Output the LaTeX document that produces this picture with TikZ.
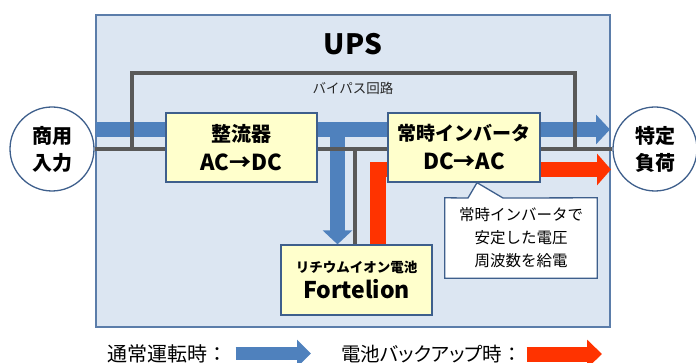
\documentclass[tikz,border=0pt]{standalone}
\usepackage{fontspec}
\setmainfont{Noto Sans CJK JP}
\newfontfamily\propfont[RawFeature=+palt]{Noto Sans CJK JP}
\usetikzlibrary{arrows.meta}
\pgfdeclarelayer{bg}
\pgfsetlayers{bg,main}
\definecolor{upsfill}{HTML}{DCE6F2}
\definecolor{upsline}{HTML}{5B7DAA}
\definecolor{boxline}{HTML}{3E5F8C}
\definecolor{boxfill}{HTML}{FFFFCC}
\definecolor{flowblue}{HTML}{4F81BD}
\definecolor{flowred}{HTML}{FF3300}
\definecolor{wire}{HTML}{595959}
\newcommand\fsz[2]{\fontsize{#1}{#2}\selectfont}
\begin{document}
\begin{tikzpicture}[x=1pt,y=-1pt,
  unit/.style={draw=boxline,fill=boxfill,line width=1.3pt,inner sep=0pt,align=center},
  endpoint/.style={circle,draw=boxline,fill=white,line width=1.3pt,minimum size=84pt,inner sep=0pt,align=center,font=\bfseries\fsz{20}{27}},
  wireline/.style={draw=wire,line width=3.5pt},
  blueflow/.style={draw=flowblue,line width=15pt,-{Triangle[length=14pt,width=29pt]}},
  redflow/.style={draw=flowred,line width=15.5pt,line join=miter,-{Triangle[length=14pt,width=31pt]}},
  legblue/.style={draw=flowblue,line width=13pt,-{Triangle[length=14pt,width=27pt]}},
  legred/.style={draw=flowred,line width=15pt,-{Triangle[length=15pt,width=28pt]}},
]
\useasboundingbox (0,0) rectangle (696,363);

% main nodes
\node[font=\bfseries\fsz{28}{28}] (upslabel) at (353,44) {UPS};
\node[endpoint] (in) at (52,149) {商用\\入力};
\node[endpoint] (out) at (655,149) {特定\\負荷};
\node[unit,minimum width=151pt,minimum height=69pt,font=\bfseries\fsz{20}{29}] (rect) at (241.5,147.5) {整流器\\{\fsz{22}{29}AC→DC}};
\node[unit,minimum width=152pt,minimum height=69pt,font=\bfseries\fsz{19}{29}] (inv) at (464,147.5) {常時インバータ\\{\fsz{22}{29}DC→AC}};
\node[unit,minimum width=151pt,minimum height=70pt,font=\bfseries\fsz{13.5}{26}] (batt) at (356.5,280) {リチウムイオン電池\\{\fsz{23}{26}Fortelion}};
\node[font=\fsz{13.5}{13.5},text=black!85] (bplabel) at (353,88) {バイパス回路};
\node[minimum width=152pt,minimum height=80pt,inner sep=0pt,align=center,font=\fsz{15.5}{23}] (note) at (521,238) {常時インバータで\\安定した電圧\\周波数を給電};

% legend
\node[anchor=base west,inner sep=0pt,font=\fsz{20}{20}] (leg1) at (107,361) {通常運転時：};
\node[anchor=base west,inner sep=0pt,font=\fsz{19.5}{19.5}] (leg2) at (341,361) {{\propfont 電池バックアップ時}：};
\coordinate (l1a) at (235.5,353.5);
\coordinate (l1b) at (311,353.5);
\coordinate (l2a) at (526.5,354);
\coordinate (l2b) at (602,354);
\draw[legblue] (l1a) -- (l1b);
\draw[legred] (l2a) -- (l2b);

% coordinates for flows
\coordinate (bstart) at (96,129.5);
\coordinate (bend) at (610,129.5);
\coordinate (bsplit) at (337.5,129.5);
\coordinate (rcorner) at (378,169.5);
\coordinate (rend) at (611,169.5);
\coordinate (bpl) at (132,73);
\coordinate (bpr) at (575,73);
\coordinate (bwire) at (355,0);
\coordinate (ptipx) at (477,0);
\coordinate (pbl) at (468,198);
\coordinate (pbr) at (503,198);

\begin{pgfonlayer}{bg}
  \node[draw=upsline,fill=upsfill,line width=1.3pt,minimum width=514pt,minimum height=312pt,inner sep=0pt] (ups) at (353,171) {};
  \draw[blueflow] (bstart) -- (bend);
  \draw[blueflow] (bsplit) -- (bsplit |- batt.north);
  \draw[redflow] (rcorner |- batt.north) -- (rcorner) -- (rend);
  \draw[wireline] (in.east) -- (out.west);
  \draw[wireline] (bpl |- in.east) -- (bpl) -- (bpr) -- (bpr |- in.east);
  \draw[wireline] (bwire |- in.east) -- (bwire |- batt.north);
  \draw[draw=boxline,fill=white,line width=1.3pt,line join=miter]
    (note.north west) -- (pbl) -- (inv.south -| ptipx) -- (pbr) -- (note.north east)
    -- (note.south east) -- (note.south west) -- cycle;
\end{pgfonlayer}
\end{tikzpicture}
\end{document}
